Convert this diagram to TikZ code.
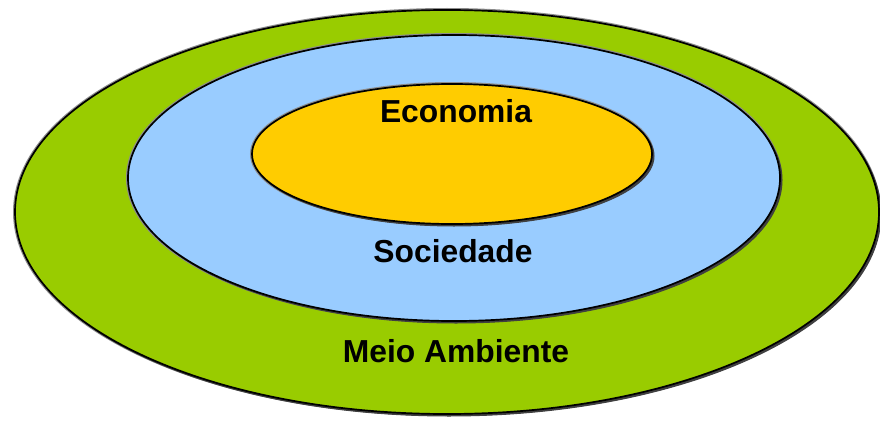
\documentclass[tikz,border=0pt]{standalone}
\usepackage{fontspec}
\setmainfont{Liberation Sans}
\definecolor{envgreen}{HTML}{99CC00}
\definecolor{socblue}{HTML}{99CCFF}
\definecolor{ecoyellow}{HTML}{FFCC00}
\tikzset{
  glow/.style={draw=black!45, line width=4pt},
  dropshadow/.style={fill=black!75, draw=black!75, line width=1pt},
  ring/.style={draw=black, line width=1.7pt},
  lbl/.style={font=\bfseries\fontsize{31.8}{34}\selectfont, text=black, inner sep=0pt}
}
\begin{document}
\begin{tikzpicture}[x=1pt,y=-1pt]
\useasboundingbox (0,0) rectangle (880,420);
% outer
\draw[glow] (447,212) ellipse [x radius=432, y radius=202];
\draw[dropshadow] (449,214) ellipse [x radius=432, y radius=202];
\draw[ring, fill=envgreen] (447,212) ellipse [x radius=432, y radius=202];
% middle
\draw[glow] (454,178) ellipse [x radius=326, y radius=143];
\draw[dropshadow] (456,180) ellipse [x radius=326, y radius=143];
\draw[ring, fill=socblue] (454,178) ellipse [x radius=326, y radius=143];
% inner
\draw[glow] (452,154) ellipse [x radius=200, y radius=70];
\draw[dropshadow] (454,156) ellipse [x radius=200, y radius=70];
\draw[ring, fill=ecoyellow] (452,154) ellipse [x radius=200, y radius=70];
% labels
\node[lbl] (eco) at (456,111) {Economia};
\node[lbl] (soc) at (453,251) {Sociedade};
\node[lbl] (env) at (456,351) {Meio Ambiente};
\end{tikzpicture}
\end{document}
